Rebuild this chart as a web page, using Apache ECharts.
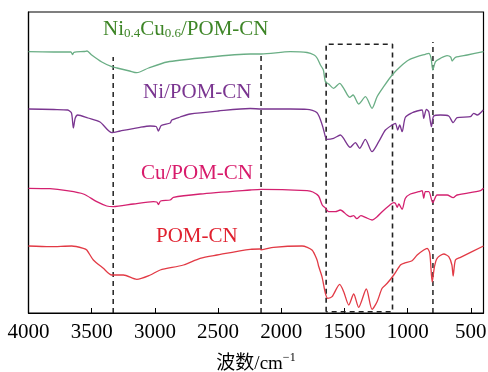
<!DOCTYPE html>
<html>
<head>
<meta charset="utf-8">
<script src="https://cdn.jsdelivr.net/npm/echarts@6/dist/echarts.min.js"></script>
<style>
  html, body { margin: 0; padding: 0; background: #fff; }
  #main { width: 488px; height: 372px; }
</style>
</head>
<body>
<div id="main"></div>
<script>
// 波数 (cm-1) 和 相对透过率 (任意单位)
var niCu = [[4000,261.3],[3800,261],[3665,261],[3652,258.5],[3640,260.7],[3560,261.5],[3537,262],[3500,258],[3420,251],[3341,246.3],[3300,245],[3200,242],[3143,240.3],[3050,245],[2903,251],[2642,255],[2246,259],[2158,259],[1929,261.3],[1796,260.5],[1740,258],[1717,255],[1690,248],[1667,243],[1651,231.3],[1625,229],[1586,224.7],[1538,229.7],[1506,224.7],[1459,215.7],[1432,218],[1388,209],[1334,216.3],[1282,204.7],[1242,216.3],[1190,226.3],[1123,238],[1057,246.5],[992,253],[925,256.3],[860,258.7],[833,259.7],[815,255],[801,243],[780,251.3],[741,254.7],[688,257.3],[660,256],[648,252],[622,255.7],[529,258],[400,261.3]];
var ni = [[4000,204],[3800,203.5],[3690,203],[3660,200],[3645,185],[3630,195],[3610,198],[3530,195],[3434,191],[3341,180.3],[3275,182],[3117,185.7],[3037,187],[2990,186.5],[2972,182],[2950,187.5],[2879,190],[2866,193],[2800,196],[2721,199],[2500,202],[2246,204.5],[2158,204],[1929,204],[1796,203.7],[1717,200.3],[1676,188],[1651,176.3],[1640,173.7],[1586,174.7],[1533,178],[1455,165.7],[1414,170.3],[1380,164.7],[1335,173.7],[1282,161.3],[1229,171.3],[1176,183],[1123,188],[1097,189.7],[1079,183],[1063,188],[1044,181.3],[1018,195.7],[965,200.3],[925,202],[886,203],[873,194.7],[852,203.7],[833,201.3],[812,186.3],[794,197],[741,198],[675,197],[640,190.3],[609,195.3],[503,196.3],[477,199.7],[450,198],[402,203]];
var cu = [[4000,124.7],[3830,124.3],[3697,122.3],[3566,119],[3460,111.3],[3381,107],[3330,106.3],[3170,109],[3011,111.3],[2985,111],[2972,108.5],[2955,112],[2879,113],[2853,115.7],[2642,119],[2246,123],[2158,123.7],[1796,122.3],[1750,121],[1705,117],[1676,108],[1651,105],[1625,101.3],[1572,101.3],[1533,103],[1480,98],[1455,96.3],[1428,97.3],[1402,94.3],[1370,97.3],[1335,95.7],[1282,93],[1242,96.3],[1202,101.3],[1150,107],[1110,110.3],[1097,109.7],[1083,105.7],[1070,109],[1044,103.7],[1018,114.7],[978,119],[912,121.3],[886,122.3],[873,114.7],[860,121.3],[833,121.3],[801,110.3],[767,118],[688,118],[640,115.3],[609,118],[424,122.3],[400,124.7]];
var pom = [[4000,67],[3830,66.3],[3658,67],[3566,64.7],[3539,63],[3487,53],[3408,44.7],[3341,38],[3249,38],[3143,33.7],[3036,38],[2958,43],[2774,48],[2642,54.7],[2509,58],[2246,63.7],[2170,64],[2158,63.2],[2061,65.7],[1836,67],[1757,63],[1717,53],[1705,47],[1678,36.3],[1651,19.7],[1632,14.7],[1598,16.3],[1538,28.7],[1506,21.3],[1466,8],[1427,19],[1388,5.7],[1327,24],[1282,3.7],[1242,11.3],[1202,24.7],[1162,29.7],[1110,38],[1057,48],[1030,49.7],[965,52.3],[925,58],[873,63],[846,64.7],[825,59.7],[806,31],[788,46.3],[767,54.7],[714,59],[675,56.3],[650,48],[640,37],[622,53],[582,55.7],[400,67]];

var xTicks = [500, 1000, 1500, 2000, 2500, 3000, 3500, 4000];
var dashX = [3330, 2160, 800];
var dashTop = [256, 260, 271];
var boxX = [1645, 1120];
var boxY = [1.3, 268.7];

var serif = '"Liberation Serif", "Noto Sans CJK SC", serif';
var myChart = echarts.init(document.getElementById('main'));

var series = [];
function trace(name, data, color) {
  series.push({
    name: name, type: 'line', data: data, showSymbol: false,
    smooth: 0.25, lineStyle: { color: color, width: 1.3 }, z: 3
  });
}
trace('Ni0.4Cu0.6/POM-CN', niCu, '#6aae85');
trace('Ni/POM-CN', ni, '#7a3590');
trace('Cu/POM-CN', cu, '#d4206f');
trace('POM-CN', pom, '#e23a45');

dashX.forEach(function (x, i) {
  series.push({
    type: 'line', data: [[x, 0], [x, dashTop[i]]], showSymbol: false, silent: true,
    lineStyle: { color: '#111', width: 1.4, type: [5, 4] }, z: 2
  });
});
series.push({
  type: 'line', showSymbol: false, silent: true,
  data: [[boxX[0], boxY[0]], [boxX[0], boxY[1]], [boxX[1], boxY[1]], [boxX[1], boxY[0]], [boxX[0], boxY[0]]],
  lineStyle: { color: '#222', width: 1.6, type: [5, 4] }, z: 2
});

var option = {
  animation: false,
  textStyle: { fontFamily: serif },
  grid: { left: 28.5, right: 4.5, top: 12, bottom: 59, containLabel: false, outerBoundsMode: 'none',
    show: true, borderColor: '#000', borderWidth: 1.2 },
  xAxis: {
    type: 'value', inverse: true, min: 400, max: 4000,
    name: '{a|波数/cm}{b|−1}', nameLocation: 'middle', nameGap: 39,
    nameTextStyle: {
      rich: {
        a: { fontFamily: serif, fontSize: 19, color: '#000', verticalAlign: 'bottom' },
        b: { fontFamily: serif, fontSize: 12, color: '#000', verticalAlign: 'top', padding: [0, 0, 10, 0] }
      }
    },
    axisLine: { lineStyle: { color: '#000', width: 1.2 } },
    axisTick: { inside: true, length: 5, customValues: xTicks, lineStyle: { color: '#000' } },
    axisLabel: { customValues: xTicks, fontFamily: serif, fontSize: 21, color: '#000', margin: 9,
      formatter: function (v) { return String(v); } },
    splitLine: { show: false }
  },
  yAxis: {
    type: 'value', min: 0, max: 301,
    axisLine: { show: true, lineStyle: { color: '#000', width: 1.2 } },
    axisTick: { show: false }, axisLabel: { show: false }, splitLine: { show: false }
  },
  graphic: [
    { type: 'text', left: 103, top: 19, style: {
      text: '{n|Ni}{s|0.4}{n|Cu}{s|0.6}{n|/POM-CN}', fill: '#3d8526',
      rich: { n: { fontFamily: serif, fontSize: 21, fill: '#3d8526' }, s: { fontFamily: serif, fontSize: 13, fill: '#3d8526', padding: [9, 0, 0, 0] } }
    } },
    { type: 'text', left: 143, top: 82, style: { text: 'Ni/POM-CN', fontFamily: serif, fontSize: 21, fill: '#7a3590' } },
    { type: 'text', left: 141, top: 163, style: { text: 'Cu/POM-CN', fontFamily: serif, fontSize: 21, fill: '#d81b6b' } },
    { type: 'text', left: 156, top: 226, style: { text: 'POM-CN', fontFamily: serif, fontSize: 21, fill: '#e0202e' } }
  ],
  series: series
};
myChart.setOption(option);
</script>
</body>
</html>
